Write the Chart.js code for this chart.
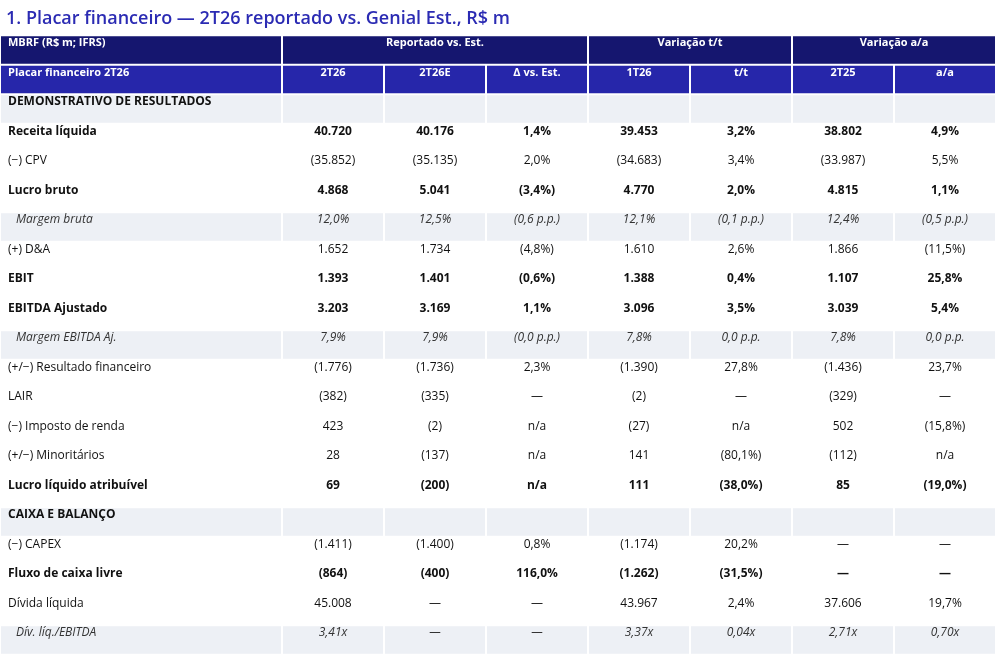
<!DOCTYPE html>
<html>
<head>
<meta charset="utf-8">
<script src="https://cdn.jsdelivr.net/npm/chart.js@4"></script>
<style>
  html, body { margin: 0; padding: 0; background: #fff; }
  #wrap { width: 1001px; height: 661px; }
</style>
</head>
<body>
<div id="wrap"><canvas id="tbl" width="1001" height="661"></canvas></div>
<script>
'use strict';

const title = '1. Placar financeiro \u2014 2T26 reportado vs. Genial Est., R$ m';
const groupHeaders = ['MBRF (R$ m; IFRS)', 'Reportado vs. Est.', 'Varia\u00e7\u00e3o t/t', 'Varia\u00e7\u00e3o a/a'];
const columnHeaders = ['Placar financeiro 2T26', '2T26', '2T26E', '\u0394 vs. Est.', '1T26', 't/t', '2T25', 'a/a'];

const rowLabels = [
  'DEMONSTRATIVO DE RESULTADOS', 'Receita l\u00edquida', '(\u2212) CPV', 'Lucro bruto', 'Margem bruta',
  '(+) D&A', 'EBIT', 'EBITDA Ajustado', 'Margem EBITDA Aj.', '(+/\u2212) Resultado financeiro',
  'LAIR', '(\u2212) Imposto de renda', '(+/\u2212) Minorit\u00e1rios', 'Lucro l\u00edquido atribu\u00edvel',
  'CAIXA E BALAN\u00c7O', '(\u2212) CAPEX', 'Fluxo de caixa livre', 'D\u00edvida l\u00edquida', 'D\u00edv. l\u00edq./EBITDA'
];
// s = section, b = bold, i = italic shaded, n = normal
const rowKinds = ['s','b','n','b','i','n','b','b','i','n','n','n','n','b','s','n','b','n','i'];

const reported = ['', '40.720', '(35.852)', '4.868', '12,0%', '1.652', '1.393', '3.203', '7,9%', '(1.776)', '(382)', '423', '28', '69', '', '(1.411)', '(864)', '45.008', '3,41x'];
const estimate = ['', '40.176', '(35.135)', '5.041', '12,5%', '1.734', '1.401', '3.169', '7,9%', '(1.736)', '(335)', '(2)', '(137)', '(200)', '', '(1.400)', '(400)', '\u2014', '\u2014'];
const vsEst = ['', '1,4%', '2,0%', '(3,4%)', '(0,6 p.p.)', '(4,8%)', '(0,6%)', '1,1%', '(0,0 p.p.)', '2,3%', '\u2014', 'n/a', 'n/a', 'n/a', '', '0,8%', '116,0%', '\u2014', '\u2014'];
const prevQuarter = ['', '39.453', '(34.683)', '4.770', '12,1%', '1.610', '1.388', '3.096', '7,8%', '(1.390)', '(2)', '(27)', '141', '111', '', '(1.174)', '(1.262)', '43.967', '3,37x'];
const qoq = ['', '3,2%', '3,4%', '2,0%', '(0,1 p.p.)', '2,6%', '0,4%', '3,5%', '0,0 p.p.', '27,8%', '\u2014', 'n/a', '(80,1%)', '(38,0%)', '', '20,2%', '(31,5%)', '2,4%', '0,04x'];
const prevYear = ['', '38.802', '(33.987)', '4.815', '12,4%', '1.866', '1.107', '3.039', '7,8%', '(1.436)', '(329)', '502', '(112)', '85', '', '\u2014', '\u2014', '37.606', '2,71x'];
const yoy = ['', '4,9%', '5,5%', '1,1%', '(0,5 p.p.)', '(11,5%)', '25,8%', '5,4%', '0,0 p.p.', '23,7%', '\u2014', '(15,8%)', 'n/a', '(19,0%)', '', '\u2014', '\u2014', '19,7%', '0,70x'];

const valueColumns = [reported, estimate, vsEst, prevQuarter, qoq, prevYear, yoy];
const colEdges = [0, 282, 384, 486, 588, 690, 792, 894, 996];

const FONT = '"Open Sans", sans-serif';
const NAVY = '#15166f';
const BLUE = '#2626aa';
const SHADE = '#edf0f5';

const tablePlugin = {
  id: 'tablePlugin',
  afterDraw(chart) {
    const { ctx, scales: { x, y } } = chart;
    const px = v => x.getPixelForValue(v);
    const py = v => y.getPixelForValue(v);
    ctx.save();

    // title
    ctx.fillStyle = '#2b2bb3';
    ctx.font = '600 18px ' + FONT;
    ctx.textBaseline = 'middle';
    ctx.textAlign = 'left';
    ctx.fillText(title, px(6), py(-3.07));

    const cellRect = (c0, c1, r, color) => {
      const x0 = px(colEdges[c0]), x1 = px(colEdges[c1]);
      const y0 = py(r - 0.5), y1 = py(r + 0.5);
      ctx.fillStyle = color;
      ctx.fillRect(x0 + 1, y0 + 1, x1 - x0 - 2, y1 - y0 - 2);
    };

    // header rows
    const groupSpans = [[0, 1], [1, 4], [4, 6], [6, 8]];
    groupSpans.forEach((s, i) => {
      cellRect(s[0], s[1], -2, NAVY);
      ctx.fillStyle = '#fff';
      ctx.font = 'bold 11px ' + FONT;
      const ty = py(-2) - 7;
      if (i === 0) { ctx.textAlign = 'left'; ctx.fillText(groupHeaders[i], px(8), ty); }
      else { ctx.textAlign = 'center'; ctx.fillText(groupHeaders[i], (px(colEdges[s[0]]) + px(colEdges[s[1]])) / 2, ty); }
    });
    columnHeaders.forEach((h, c) => {
      cellRect(c, c + 1, -1, BLUE);
      ctx.fillStyle = '#fff';
      ctx.font = 'bold 11px ' + FONT;
      const ty = py(-1) - 7;
      if (c === 0) { ctx.textAlign = 'left'; ctx.fillText(h, px(8), ty); }
      else { ctx.textAlign = 'center'; ctx.fillText(h, (px(colEdges[c]) + px(colEdges[c + 1])) / 2, ty); }
    });

    // body
    rowLabels.forEach((label, r) => {
      const kind = rowKinds[r];
      if (kind === 's' || kind === 'i') {
        for (let c = 0; c < 8; c++) cellRect(c, c + 1, r, SHADE);
      }
      const weight = (kind === 's' || kind === 'b') ? 'bold ' : '';
      const style = kind === 'i' ? 'italic ' : '';
      ctx.font = style + weight + '12px ' + FONT;
      ctx.fillStyle = kind === 'i' ? '#333' : '#111';
      const ty = py(r) - 7;
      ctx.textAlign = 'left';
      ctx.fillText(label, px(kind === 'i' ? 16 : 8), ty);
      ctx.textAlign = 'center';
      valueColumns.forEach((col, c) => {
        if (col[r]) ctx.fillText(col[r], (px(colEdges[c + 1]) + px(colEdges[c + 2])) / 2, ty);
      });
    });
    ctx.restore();
  }
};

new Chart(document.getElementById('tbl'), {
  type: 'scatter',
  data: { datasets: [{ data: [], pointRadius: 0 }] },
  options: {
    responsive: false,
    animation: false,
    layout: { padding: 0 },
    plugins: { legend: { display: false }, tooltip: { enabled: false } },
    scales: {
      x: { type: 'linear', min: 0, max: 1001, display: false },
      // row units: row 0 centre at 109 px, 29.5 px per row
      y: { type: 'linear', min: -109 / 29.5, max: (661 - 109) / 29.5, reverse: true, display: false }
    }
  },
  plugins: [tablePlugin]
});
</script>
</body>
</html>
